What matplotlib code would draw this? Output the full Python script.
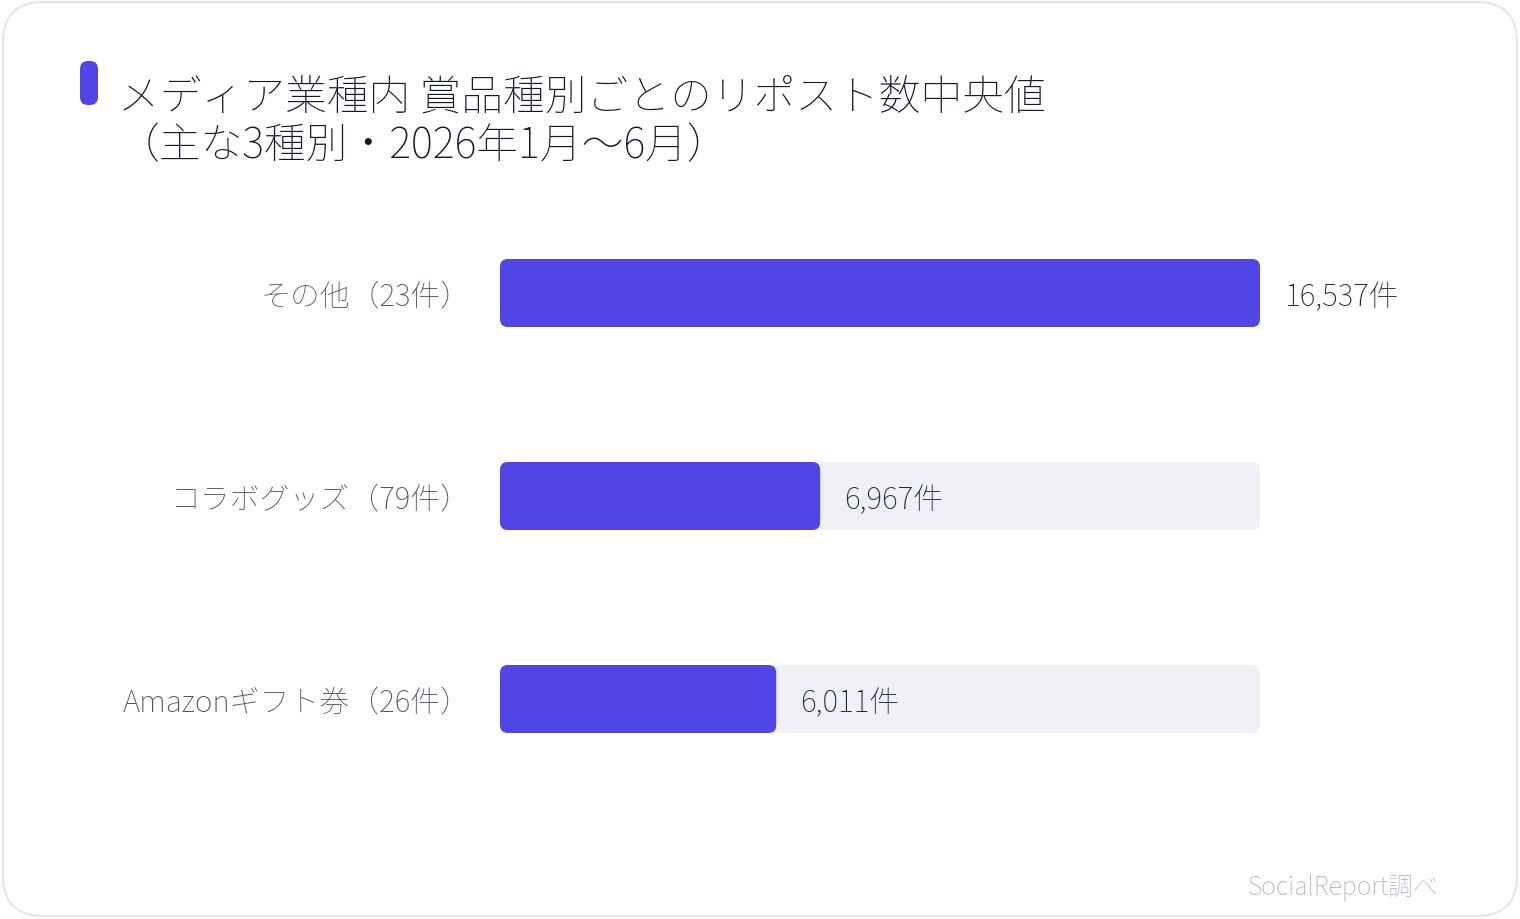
import matplotlib
matplotlib.use("Agg")
import matplotlib.pyplot as plt
from matplotlib.patches import FancyBboxPatch

plt.rcParams['font.family'] = ['Noto Sans CJK JP', 'DejaVu Sans']

# データ
categories = ["その他（23件）", "コラボグッズ（79件）", "Amazonギフト券（26件）"]
values = [16537, 6967, 6011]
title_line1 = "メディア業種内 賞品種別ごとのリポスト数中央値"
title_line2 = "（主な3種別・2026年1月〜6月）"
source = "SocialReport調べ"

BAR = "#4f46e5"
TRACK = "#f0f1f6"
W, H = 1520, 920
WT = 100  # 細字

fig = plt.figure(figsize=(W / 100, H / 100), dpi=100)
fig.patch.set_facecolor("white")

# カード枠
card = FancyBboxPatch((3 / W, 3 / H), 1514 / W, 914 / H,
                      boxstyle="round,pad=0,rounding_size=%f" % (40 / W),
                      mutation_aspect=W / H, transform=fig.transFigure,
                      facecolor="none", edgecolor="#e4e6ee", linewidth=1.5,
                      zorder=-1)
fig.patches.append(card)

# タイトル左のアクセント
acc = FancyBboxPatch((80 / W, 1 - 106 / H), 18 / W, 44 / H,
                     boxstyle="round,pad=0,rounding_size=%f" % (8 / W),
                     mutation_aspect=W / H, transform=fig.transFigure,
                     facecolor=BAR, edgecolor="none")
fig.patches.append(acc)

fig.text(118 / W, 1 - 98 / H, title_line1, fontsize=30.1, color="#111827",
         va="center", ha="left", weight=WT)
fig.text(118 / W, 1 - 146 / H, title_line2, fontsize=30.1, color="#111827",
         va="center", ha="left", weight=WT)

# 棒グラフ
ax = fig.add_axes([500 / W, 1 - 801.5 / H, 760 / W, 609 / H])
vmax = max(values)
ax.set_xlim(0, vmax)
ax.set_ylim(len(values) - 0.5, -0.5)
ax.axis("off")

bh = 68 / 203
x_per_px = vmax / 760
y_per_px = 1 / 203
r = 8 * x_per_px
asp = y_per_px / x_per_px

for i, v in enumerate(values):
    track = FancyBboxPatch((0, i - bh / 2), vmax, bh,
                           boxstyle="round,pad=0,rounding_size=%f" % r,
                           mutation_aspect=asp, facecolor=TRACK,
                           edgecolor="none")
    ax.add_patch(track)
    bar = FancyBboxPatch((0, i - bh / 2), v, bh,
                         boxstyle="round,pad=0,rounding_size=%f" % r,
                         mutation_aspect=asp, facecolor=BAR, edgecolor="none")
    ax.add_patch(bar)
    ax.annotate(f"{v:,}件", (v, i), xytext=(17, -2.5), textcoords="offset points",
                ha="left", va="center", fontsize=21.5, color="#1f2937",
                weight=WT)
    ax.annotate(categories[i], (0, i), xytext=(-21, -2.5), textcoords="offset points",
                ha="right", va="center", fontsize=21.5, color="#4b5563",
                weight=WT)

fig.text(1439 / W, 1 - 888 / H, source, fontsize=18, color="#aeb3c2",
         ha="right", va="center", weight=WT)

fig.savefig("out.png", dpi=100, facecolor="white")
